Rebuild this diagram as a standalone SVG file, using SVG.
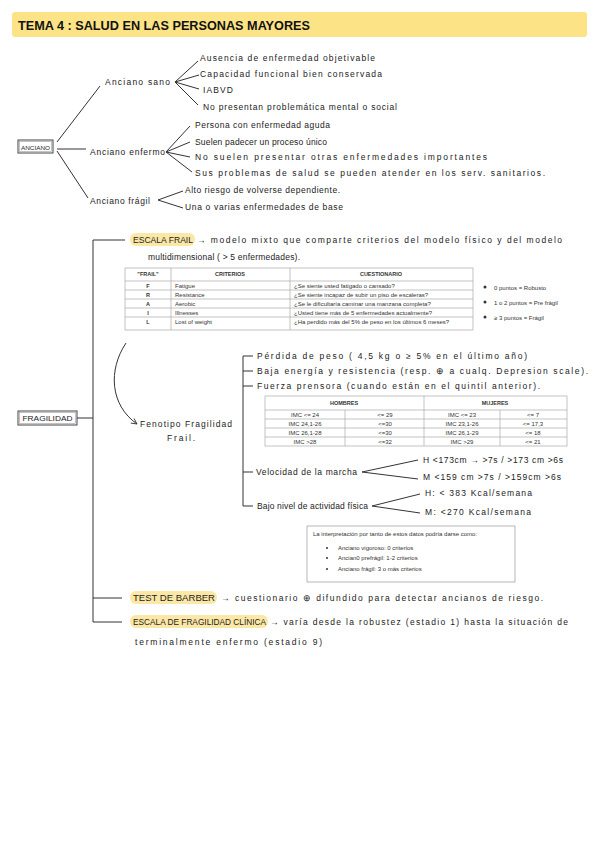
<svg xmlns="http://www.w3.org/2000/svg" width="599" height="848" viewBox="0 0 599 848">
<style>
.h{font-family:"Liberation Sans",Arial,sans-serif;font-size:8.5px;fill:#222}
.t{font-family:"Liberation Sans",Arial,sans-serif;font-size:6px;fill:#333}
.tb{font-family:"Liberation Sans",Arial,sans-serif;font-size:5.5px;fill:#333;font-weight:bold}
.ln{stroke:#333;stroke-width:1;fill:none}
.tl{stroke:#aaa;stroke-width:0.7;fill:none}
.box{fill:#fff;stroke:#444;stroke-width:1}
.hl{fill:#fce8a6}
</style>
<defs>
<marker id="ah" viewBox="0 0 10 10" refX="9" refY="5" markerWidth="7" markerHeight="7" orient="auto">
<path d="M1,1 L9,5 L1,9" fill="none" stroke="#333" stroke-width="1.2"/>
</marker>
</defs>
<rect width="599" height="848" fill="#fff"/>

<g id="title">
<rect x="12" y="12" width="575" height="25" rx="3" fill="#fce385"/>
<text x="18" y="30" font-family="Liberation Sans,Arial,sans-serif" font-size="13" font-weight="bold" fill="#111" textLength="292" lengthAdjust="spacingAndGlyphs">TEMA 4 : SALUD EN LAS PERSONAS MAYORES</text>
</g>

<g id="connectors">
<path class="ln" d="M57,142 L100,86"/>
<path class="ln" d="M57,149 L86,149"/>
<path class="ln" d="M57,151 L88,198"/>
<path class="ln" d="M175,82 L198,61 M175,82 L199,75 M175,82 L199,89 M175,82 L198,105"/>
<path class="ln" d="M166,152 L190,126 M166,152 L190,142 M166,152 L190,157 M166,152 L192,172"/>
<path class="ln" d="M158,200 L183,191 M158,200 L183,208"/>
<path class="ln" d="M77,418 L93,418"/>
<path class="ln" d="M125,240 L93,240 L93,622 L122,622"/>
<path class="ln" d="M93,598 L122,598"/>
<path class="ln" d="M253,356 L243,356 L243,506 L253,506"/>
<path class="ln" d="M243,371 L253,371 M243,386 L253,386 M243,472 L253,472"/>
<path class="ln" d="M362,472 L418,460 M362,472 L418,479"/>
<path class="ln" d="M372,506 L420,494 M372,506 L420,513"/>
<path class="ln" d="M126,343 C108,370 110,405 137,424" marker-end="url(#ah)"/>
</g>

<g id="anciano">
<rect class="box" x="18" y="140" width="35" height="13"/>
<rect x="19.5" y="141.5" width="32" height="10" fill="none" stroke="#888" stroke-width="0.5"/>
<text x="35.5" y="149.5" text-anchor="middle" font-family="Liberation Sans,Arial,sans-serif" font-size="6" fill="#222" textLength="29" lengthAdjust="spacingAndGlyphs">ANCIANO</text>
</g>

<g id="anciano-sano">
<text class="h" x="105" y="85" textLength="65" lengthAdjust="spacing">Anciano sano</text>
<text class="h" x="200" y="61" textLength="175" lengthAdjust="spacing">Ausencia de enfermedad objetivable</text>
<text class="h" x="200" y="77" textLength="182" lengthAdjust="spacing">Capacidad funcional bien conservada</text>
<text class="h" x="203" y="93" textLength="30" lengthAdjust="spacing">IABVD</text>
<text class="h" x="203" y="110" textLength="194" lengthAdjust="spacing">No presentan problemática mental o social</text>
</g>

<g id="anciano-enfermo">
<text class="h" x="90" y="155" textLength="75" lengthAdjust="spacing">Anciano enfermo</text>
<text class="h" x="195" y="128" textLength="135" lengthAdjust="spacing">Persona con enfermedad aguda</text>
<text class="h" x="195" y="145" textLength="132" lengthAdjust="spacing">Suelen padecer un proceso único</text>
<text class="h" x="195" y="160" textLength="292" lengthAdjust="spacing">No suelen presentar otras enfermedades importantes</text>
<text class="h" x="195" y="176" textLength="350" lengthAdjust="spacing">Sus problemas de salud se pueden atender en los serv. sanitarios.</text>
</g>

<g id="anciano-fragil">
<text class="h" x="90" y="204" textLength="60" lengthAdjust="spacing">Anciano frágil</text>
<text class="h" x="185" y="193" textLength="155" lengthAdjust="spacing">Alto riesgo de volverse dependiente.</text>
<text class="h" x="185" y="210" textLength="158" lengthAdjust="spacing">Una o varias enfermedades de base</text>
</g>

<g id="fragilidad">
<rect class="box" x="18" y="411" width="59" height="14"/>
<rect x="19.5" y="412.5" width="56" height="11" fill="none" stroke="#888" stroke-width="0.5"/>
<text x="47.5" y="421" text-anchor="middle" font-family="Liberation Sans,Arial,sans-serif" font-size="7" fill="#222" textLength="50" lengthAdjust="spacingAndGlyphs">FRAGILIDAD</text>
</g>

<g id="escala-frail">
<rect class="hl" x="130" y="233" width="65" height="13" rx="6"/>
<text class="h" x="133" y="243" textLength="60" lengthAdjust="spacingAndGlyphs">ESCALA FRAIL</text>
<text class="h" x="197" y="243" textLength="365" lengthAdjust="spacing">→ modelo mixto que comparte criterios del modelo físico y del modelo</text>
<text class="h" x="148" y="260" textLength="152" lengthAdjust="spacing">multidimensional ( &gt; 5 enfermedades).</text>
</g>

<g id="tabla-frail">
<rect class="tl" x="125" y="268" width="348" height="62"/>
<path class="tl" d="M125,281 H473 M125,290 H473 M125,299 H473 M125,308 H473 M125,317 H473 M171,268 V330 M290,268 V330"/>
<text class="tb" x="148" y="276" text-anchor="middle">"FRAIL"</text>
<text class="tb" x="230" y="276" text-anchor="middle">CRITERIOS</text>
<text class="tb" x="381" y="276" text-anchor="middle">CUESTIONARIO</text>
<text class="tb" x="148" y="288" text-anchor="middle">F</text>
<text class="tb" x="148" y="297" text-anchor="middle">R</text>
<text class="tb" x="148" y="306" text-anchor="middle">A</text>
<text class="tb" x="148" y="315" text-anchor="middle">I</text>
<text class="tb" x="148" y="324" text-anchor="middle">L</text>
<text class="t" x="175" y="288">Fatigue</text>
<text class="t" x="175" y="297">Resistance</text>
<text class="t" x="175" y="306">Aerobic</text>
<text class="t" x="175" y="315">Illnesses</text>
<text class="t" x="175" y="324">Lost of weight</text>
<text class="t" x="294" y="288">¿Se siente usted fatigado o cansado?</text>
<text class="t" x="294" y="297">¿Se siente incapaz de subir un piso de escaleras?</text>
<text class="t" x="294" y="306">¿Se le dificultaría caminar una manzana completa?</text>
<text class="t" x="294" y="315">¿Usted tiene más de 5 enfermedades actualmente?</text>
<text class="t" x="294" y="324">¿Ha perdido más del 5% de peso en los últimos 6 meses?</text>
</g>

<g id="puntos">
<circle cx="485" cy="287" r="1.5" fill="#333"/>
<circle cx="485" cy="302" r="1.5" fill="#333"/>
<circle cx="485" cy="317" r="1.5" fill="#333"/>
<text class="t" x="494" y="290">0 puntos = Robusto</text>
<text class="t" x="494" y="305">1 o 2 puntos = Pre frágil</text>
<text class="t" x="494" y="320">≥ 3 puntos = Frágil</text>
</g>

<g id="fenotipo">
<text class="h" x="140" y="427" textLength="92" lengthAdjust="spacing">Fenotipo Fragilidad</text>
<text class="h" x="167" y="441" textLength="28" lengthAdjust="spacing">Frail.</text>
</g>

<g id="criterios-fenotipo">
<text class="h" x="257" y="359" textLength="270" lengthAdjust="spacing">Pérdida de peso ( 4,5 kg o ≥ 5% en el último año)</text>
<text class="h" x="257" y="374" textLength="331" lengthAdjust="spacing">Baja energía y resistencia (resp. ⊕ a cualq. Depresion scale).</text>
<text class="h" x="257" y="389" textLength="283" lengthAdjust="spacing">Fuerza prensora (cuando están en el quintil anterior).</text>
</g>

<g id="tabla-prensora">
<rect class="tl" x="265" y="396" width="302" height="50"/>
<path class="tl" d="M265,410 H567 M265,419 H567 M265,428 H567 M265,437 H567 M424,396 V446 M345,410 V446 M500,410 V446"/>
<text class="tb" x="344" y="405" text-anchor="middle">HOMBRES</text>
<text class="tb" x="495" y="405" text-anchor="middle">MUJERES</text>
<text class="t" x="305" y="417" text-anchor="middle">IMC &lt;= 24</text>
<text class="t" x="385" y="417" text-anchor="middle">&lt;= 29</text>
<text class="t" x="462" y="417" text-anchor="middle">IMC &lt;= 23</text>
<text class="t" x="533" y="417" text-anchor="middle">&lt;= 7</text>
<text class="t" x="305" y="426" text-anchor="middle">IMC 24,1-26</text>
<text class="t" x="385" y="426" text-anchor="middle">&lt;=30</text>
<text class="t" x="462" y="426" text-anchor="middle">IMC 23,1-26</text>
<text class="t" x="533" y="426" text-anchor="middle">&lt;= 17,3</text>
<text class="t" x="305" y="435" text-anchor="middle">IMC 26,1-28</text>
<text class="t" x="385" y="435" text-anchor="middle">&lt;=30</text>
<text class="t" x="462" y="435" text-anchor="middle">IMC 26,1-29</text>
<text class="t" x="533" y="435" text-anchor="middle">&lt;= 18</text>
<text class="t" x="305" y="444" text-anchor="middle">IMC &gt;28</text>
<text class="t" x="385" y="444" text-anchor="middle">&lt;=32</text>
<text class="t" x="462" y="444" text-anchor="middle">IMC &gt;29</text>
<text class="t" x="533" y="444" text-anchor="middle">&lt;= 21</text>
</g>

<g id="velocidad">
<text class="h" x="256" y="475" textLength="101" lengthAdjust="spacing">Velocidad de la marcha</text>
<text class="h" x="423" y="463" textLength="140" lengthAdjust="spacing">H &lt;173cm → &gt;7s / &gt;173 cm &gt;6s</text>
<text class="h" x="423" y="480" textLength="138" lengthAdjust="spacing">M &lt;159 cm &gt;7s / &gt;159cm &gt;6s</text>
</g>

<g id="actividad">
<text class="h" x="257" y="509" textLength="111" lengthAdjust="spacing">Bajo nivel de actividad física</text>
<text class="h" x="425" y="496" textLength="107" lengthAdjust="spacing">H: &lt; 383 Kcal/semana</text>
<text class="h" x="425" y="515" textLength="106" lengthAdjust="spacing">M: &lt;270 Kcal/semana</text>
</g>

<g id="interpretacion">
<rect x="307" y="526" width="208" height="56" fill="#fff" stroke="#999" stroke-width="0.7"/>
<text class="t" x="313" y="536">La interpretación por tanto de estos datos podría darse como:</text>
<circle cx="327" cy="548" r="1" fill="#333"/>
<circle cx="327" cy="558" r="1" fill="#333"/>
<circle cx="327" cy="569" r="1" fill="#333"/>
<text class="t" x="338" y="550">Anciano vigoroso: 0 criterios</text>
<text class="t" x="338" y="560">Ancian0 prefrágil: 1-2 criterios</text>
<text class="t" x="338" y="571">Anciano frágil: 3 o más criterios</text>
</g>

<g id="test-barber">
<rect class="hl" x="130" y="591" width="87" height="13" rx="6"/>
<text class="h" x="133" y="601" textLength="82" lengthAdjust="spacingAndGlyphs">TEST DE BARBER</text>
<text class="h" x="221" y="601" textLength="322" lengthAdjust="spacing">→ cuestionario ⊕ difundido para detectar ancianos de riesgo.</text>
</g>

<g id="escala-clinica">
<rect class="hl" x="130" y="615" width="138" height="13" rx="6"/>
<text class="h" x="133" y="625" textLength="133" lengthAdjust="spacingAndGlyphs">ESCALA DE FRAGILIDAD CLÍNICA</text>
<text class="h" x="270" y="625" textLength="298" lengthAdjust="spacing">→ varía desde la robustez (estadio 1) hasta la situación de</text>
<text class="h" x="135" y="645" textLength="187" lengthAdjust="spacing">terminalmente enfermo (estadio 9)</text>
</g>
</svg>
